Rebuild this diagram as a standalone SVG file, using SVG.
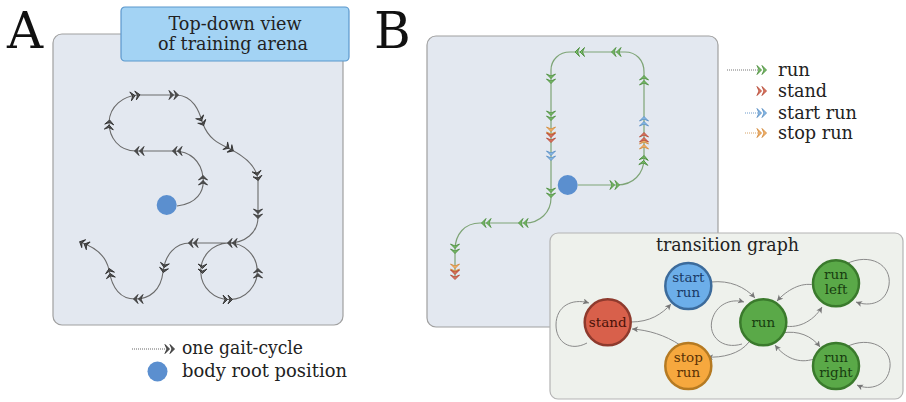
<svg xmlns="http://www.w3.org/2000/svg" xmlns:xlink="http://www.w3.org/1999/xlink" width="906" height="402" viewBox="0 0 906 402">
<style>
text{font-family:"DejaVu Serif","Liberation Serif",serif;}
.big{font-size:50px;fill:#111;}
.lbl{font-size:18px;fill:#222;}
.ttl{font-size:18px;fill:#222;text-anchor:middle;}
.node{font-size:13.5px;text-anchor:middle;}
.panel{fill:#e3e8f0;stroke:#a0a0a0;stroke-width:1.2;}
.pathA{fill:none;stroke:#6a6a6a;stroke-width:1.1;}
.pathB{fill:none;stroke:#7ea476;stroke-width:1.2;}
.edge{fill:none;stroke:#8a8a8a;stroke-width:1;marker-end:url(#ah);}
</style>
<defs>
<marker id="ah" markerWidth="7" markerHeight="7" refX="6" refY="3" orient="auto" markerUnits="userSpaceOnUse">
<path d="M0,0 L6,3 L0,6 L1.5,3 Z" fill="#777"/>
</marker>
<path id="dch" d="M-8,-4.5 L-3.5,0 L-8,4.5 L-6,0 Z M-3,-4.5 L1.5,0 L-3,4.5 L-1,0 Z"/>
<g id="chA"><use xlink:href="#dch" fill="#555" stroke="#333" stroke-width="0.9"/></g>
<g id="chG"><use xlink:href="#dch" fill="#7cc06a" stroke="#4d8f3e" stroke-width="0.9"/></g>
<g id="chR"><use xlink:href="#dch" fill="#e07a66" stroke="#b54a36" stroke-width="0.9"/></g>
<g id="chB"><use xlink:href="#dch" fill="#8cc0ee" stroke="#5a8fc4" stroke-width="0.9"/></g>
<g id="chO"><use xlink:href="#dch" fill="#f6b871" stroke="#d58a3a" stroke-width="0.9"/></g>
</defs>

<!-- Panel A -->
<g id="panelA">
<text class="big" font-family="Liberation Serif, serif" x="7" y="48">A</text>
<rect class="panel" x="53" y="34" width="290" height="291" rx="9"/>
<g id="titleA">
<rect x="121" y="7" width="228" height="54" rx="4" fill="#a3d3f4" stroke="#5b97cc" stroke-width="1.2"/>
<text class="ttl" x="235" y="29.5" textLength="133" lengthAdjust="spacingAndGlyphs">Top-down view</text>
<text class="ttl" x="233" y="50" textLength="150" lengthAdjust="spacingAndGlyphs">of training arena</text>
</g>
<path class="pathA" d="M177,206 C196,204 205,192 203,177 C201,161 190,151 174,151 L136,151 C119,151 109,138 109,122 C110,106 123,96 138,95 L177,95 C193,96 199,110 203,124 C209,140 220,144 232,150 C247,158 257,168 258,180 L258,217 C258,233 245,243 228,243 A28,28 0 0 0 230,299.5 A28,28 0 0 0 228,243 L190,243 C175,243 165,255 163,272 C161,290 150,299 135,299 C120,299 112,288 109,270 C106,255 95,247 80,242"/>
<circle cx="166.7" cy="205" r="10" fill="#5b8fcf"/>
<use xlink:href="#chA" transform="translate(203,177) rotate(-90)"/>
<use xlink:href="#chA" transform="translate(174,151) rotate(180)"/>
<use xlink:href="#chA" transform="translate(136,151) rotate(180)"/>
<use xlink:href="#chA" transform="translate(109.5,121.5) rotate(-85)"/>
<use xlink:href="#chA" transform="translate(138.5,95) rotate(-10)"/>
<use xlink:href="#chA" transform="translate(177,95) rotate(0)"/>
<use xlink:href="#chA" transform="translate(203,124) rotate(65)"/>
<use xlink:href="#chA" transform="translate(232,150) rotate(32)"/>
<use xlink:href="#chA" transform="translate(258,179) rotate(80)"/>
<use xlink:href="#chA" transform="translate(258,217) rotate(90)"/>
<use xlink:href="#chA" transform="translate(229,243) rotate(180)"/>
<use xlink:href="#chA" transform="translate(202.5,272) rotate(90)"/>
<use xlink:href="#chA" transform="translate(231,299.5) rotate(0)"/>
<use xlink:href="#chA" transform="translate(258,270) rotate(-90)"/>
<use xlink:href="#chA" transform="translate(190,243) rotate(180)"/>
<use xlink:href="#chA" transform="translate(163.5,271) rotate(100)"/>
<use xlink:href="#chA" transform="translate(135,299) rotate(180)"/>
<use xlink:href="#chA" transform="translate(109.5,270) rotate(-100)"/>
<use xlink:href="#chA" transform="translate(81,242.5) rotate(-155)"/>
</g>
<g id="legendA">
<line x1="132" y1="349" x2="166" y2="349" stroke="#666" stroke-width="1" stroke-dasharray="1 1"/>
<use xlink:href="#chA" transform="translate(173,349)"/>
<text class="lbl" x="182" y="354" textLength="121" lengthAdjust="spacingAndGlyphs">one gait-cycle</text>
<circle cx="157.5" cy="371.5" r="10" fill="#5b8fcf"/>
<text class="lbl" x="182" y="377" textLength="165" lengthAdjust="spacingAndGlyphs">body root position</text>
</g>

<!-- Panel B -->
<g id="panelB">
<text class="big" font-family="Liberation Serif, serif" x="374" y="48">B</text>
<rect class="panel" x="427" y="36" width="291" height="291" rx="9"/>
<path class="pathB" d="M578,185 L617,185 C633,185 644,174 644,158 L644,72 C644,60 636,52 625,52 L570,52 C559,52 551,60 551,70 L551,198 C551,212 540,223 525,223 L480,223 C465,223 455,234 455,250 L455,278"/>
<circle cx="567.7" cy="185" r="10" fill="#5b8fcf"/>
<use xlink:href="#chG" transform="translate(618,185)"/>
<use xlink:href="#chG" transform="translate(644,157) rotate(-85)"/>
<use xlink:href="#chO" transform="translate(644,141) rotate(-90)"/>
<use xlink:href="#chR" transform="translate(644,134) rotate(-90)"/>
<use xlink:href="#chB" transform="translate(644,118) rotate(-90)"/>
<use xlink:href="#chG" transform="translate(644,77) rotate(-90)"/>
<use xlink:href="#chG" transform="translate(613,52) rotate(180)"/>
<use xlink:href="#chG" transform="translate(576.5,52) rotate(180)"/>
<use xlink:href="#chG" transform="translate(551,82) rotate(90)"/>
<use xlink:href="#chG" transform="translate(551,119) rotate(90)"/>
<use xlink:href="#chO" transform="translate(551,135) rotate(90)"/>
<use xlink:href="#chR" transform="translate(551,141) rotate(90)"/>
<use xlink:href="#chB" transform="translate(551,159) rotate(90)"/>
<use xlink:href="#chG" transform="translate(551,196) rotate(90)"/>
<use xlink:href="#chG" transform="translate(520,223) rotate(180)"/>
<use xlink:href="#chG" transform="translate(483,223) rotate(180)"/>
<use xlink:href="#chG" transform="translate(455,252) rotate(90)"/>
<use xlink:href="#chO" transform="translate(455,272) rotate(90)"/>
<use xlink:href="#chR" transform="translate(455,278) rotate(90)"/>
</g>
<g id="legendB">
<line x1="727" y1="70" x2="758" y2="70" stroke="#777" stroke-width="1" stroke-dasharray="1 1"/>
<use xlink:href="#chG" transform="translate(765,70)"/>
<text class="lbl" x="778" y="76" textLength="32" lengthAdjust="spacingAndGlyphs">run</text>
<use xlink:href="#chR" transform="translate(765,91)"/>
<text class="lbl" x="778" y="97" textLength="49" lengthAdjust="spacingAndGlyphs">stand</text>
<line x1="745" y1="113" x2="758" y2="113" stroke="#6f9ccc" stroke-width="1" stroke-dasharray="1 1"/>
<use xlink:href="#chB" transform="translate(765,113)"/>
<text class="lbl" x="778" y="119" textLength="79" lengthAdjust="spacingAndGlyphs">start run</text>
<line x1="745" y1="133" x2="758" y2="133" stroke="#d6a46a" stroke-width="1" stroke-dasharray="1 1"/>
<use xlink:href="#chO" transform="translate(765,133)"/>
<text class="lbl" x="778" y="139" textLength="75" lengthAdjust="spacingAndGlyphs">stop run</text>
</g>

<!-- Transition graph -->
<g id="transition">
<rect x="550" y="233" width="353" height="166" rx="8" fill="#eef1ec" stroke="#b4b4b4" stroke-width="1.2"/>
<text class="ttl" x="727.5" y="251" textLength="143" lengthAdjust="spacingAndGlyphs">transition graph</text>
</g>
<g id="edges">
<path class="edge" d="M587,343 C570,352 556,342 556,325 C556,306 572,298 589,303"/>
<path class="edge" d="M631,322 C650,322 662,314 671,304"/>
<path class="edge" d="M711,282 C730,280 745,287 755,298"/>
<path class="edge" d="M749,342 C740,354 722,358 707,357"/>
<path class="edge" d="M680,345 C665,335 648,330 632,329"/>
<path class="edge" d="M742,344 C722,350 708,336 712,320 C716,305 730,298 744,302"/>
<path class="edge" d="M781,325 C796,330 813,322 822,307"/>
<path class="edge" d="M814,285 C801,282 787,290 777,301"/>
<path class="edge" d="M782,333 C798,330 812,336 820,347"/>
<path class="edge" d="M814,359 C799,364 785,358 775,345"/>
<path class="edge" d="M846,264 C870,252 892,265 889,285 C886,303 870,307 856,302"/>
<path class="edge" d="M846,347 C870,335 892,348 890,367 C888,386 870,391 857,385"/>
</g>
<g id="stand">
<circle cx="607.7" cy="322.3" r="23" fill="#d8604b" stroke="#8e3a2d" stroke-width="2.5"/>
<text class="node" x="607.7" y="327" fill="#4a1208" font-size="14">stand</text>
</g>
<g id="startrun">
<circle cx="688.3" cy="286" r="23" fill="#6caee9" stroke="#3c6b9b" stroke-width="2.5"/>
<text class="node" x="688.3" y="282" fill="#1a3a66">start<tspan x="688.3" dy="15">run</tspan></text>
</g>
<g id="run">
<circle cx="763.3" cy="322.3" r="23" fill="#5aa948" stroke="#3a7a2c" stroke-width="2.5"/>
<text class="node" x="763.3" y="327" fill="#183d10" font-size="14">run</text>
</g>
<g id="stoprun">
<circle cx="688.3" cy="366" r="23" fill="#f6a83e" stroke="#b57a22" stroke-width="2.5"/>
<text class="node" x="688.3" y="362" fill="#5a3206">stop<tspan x="688.3" dy="15">run</tspan></text>
</g>
<g id="runleft">
<circle cx="836" cy="283.3" r="23" fill="#5aa948" stroke="#3a7a2c" stroke-width="2.5"/>
<text class="node" x="836" y="279" fill="#183d10">run<tspan x="836" dy="15">left</tspan></text>
</g>
<g id="runright">
<circle cx="836" cy="366" r="23" fill="#5aa948" stroke="#3a7a2c" stroke-width="2.5"/>
<text class="node" x="836" y="362" fill="#183d10">run<tspan x="836" dy="15">right</tspan></text>
</g>
</svg>
